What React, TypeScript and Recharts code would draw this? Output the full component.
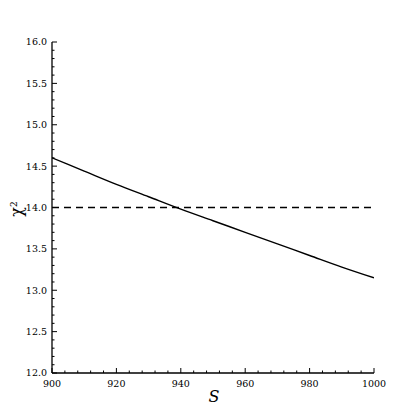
import React from "react";
import { LineChart, Line, XAxis, YAxis } from "recharts";

const sValues = [900, 910, 920, 930, 940, 950, 960, 970, 980, 990, 1000];
const chiValues = [14.6, 14.44, 14.28, 14.13, 13.98, 13.84, 13.7, 13.56, 13.42, 13.28, 13.15];
const thresholdValue = 14.0;
const xMajorTicks = [900, 920, 940, 960, 980, 1000];
const yMajorTicks = [12.0, 12.5, 13.0, 13.5, 14.0, 14.5, 15.0, 15.5, 16.0];
const xLabel = "S";
const yLabel = "χ";
const yLabelSup = "2";

const data = sValues.map((s, i) => ({ S: s, chi: chiValues[i], thresh: thresholdValue }));

const xAllTicks: number[] = [];
for (let v = 900; v <= 1000; v += 4) xAllTicks.push(v);
const yAllTicks: number[] = [];
for (let k = 120; k <= 160; k++) yAllTicks.push(k / 10);

const isXMajor = (v: number) => xMajorTicks.includes(v);
const isYMajor = (v: number) => yMajorTicks.some((m) => Math.abs(m - v) < 1e-6);

const FONT = '"DejaVu Serif", "Liberation Serif", "Times New Roman", serif';
const MAJ = 5;
const MIN = 2.5;
const SW = 1;
const txt = { fontFamily: FONT };

const BottomTick = (props: any) => {
  const { x, y, payload } = props;
  const axisY = y;
  const major = isXMajor(payload.value);
  return (
    <g>
      <line x1={x} y1={axisY} x2={x} y2={axisY - (major ? MAJ : MIN)} stroke="#000" strokeWidth={SW} />
      {major && (
        <text x={x} y={axisY + 14} textAnchor="middle" style={txt} fontSize={9.5} fill="#000">
          {payload.value}
        </text>
      )}
    </g>
  );
};

const TopTick = (props: any) => {
  const { x, y, payload } = props;
  const major = isXMajor(payload.value);
  return <line x1={x} y1={y} x2={x} y2={y + (major ? MAJ : MIN)} stroke="#000" strokeWidth={SW} />;
};

const LeftTick = (props: any) => {
  const { x, y, payload } = props;
  const axisX = x;
  const major = isYMajor(payload.value);
  return (
    <g>
      <line x1={axisX} y1={y} x2={axisX + (major ? MAJ : MIN)} y2={y} stroke="#000" strokeWidth={SW} />
      {major && (
        <text x={axisX - 5} y={y} dy="0.36em" textAnchor="end" style={txt} fontSize={9.5} fill="#000">
          {Number(payload.value).toFixed(1)}
        </text>
      )}
    </g>
  );
};

const RightTick = (props: any) => {
  const { x, y, payload } = props;
  const major = isYMajor(payload.value);
  return <line x1={x} y1={y} x2={x - (major ? MAJ : MIN)} y2={y} stroke="#000" strokeWidth={SW} />;
};

export default function App() {
  return (
    <LineChart width={415} height={415} data={data} margin={{ top: 34, right: 49, bottom: 20, left: 0 }}>
      <XAxis
        xAxisId="bottom"
        dataKey="S"
        type="number"
        domain={[900, 1000]}
        allowDataOverflow
        ticks={xAllTicks}
        interval={0}
        tickSize={0}
        tickMargin={0}
        height={30}
        axisLine={{ stroke: "#000", strokeWidth: 1.3 }}
        tickLine={false}
        tick={<BottomTick />}
      />
      <XAxis
        xAxisId="top"
        orientation="top"
        dataKey="S"
        type="number"
        domain={[900, 1000]}
        allowDataOverflow
        ticks={xAllTicks}
        interval={0}
        tickSize={0}
        tickMargin={0}
        height={0}
        axisLine={{ stroke: "#000", strokeWidth: 1.3 }}
        tickLine={false}
        tick={<TopTick />}
      />
      <YAxis
        yAxisId="left"
        type="number"
        domain={[12, 16]}
        allowDataOverflow
        ticks={yAllTicks}
        interval={0}
        tickSize={0}
        tickMargin={0}
        width={44}
        axisLine={{ stroke: "#000", strokeWidth: 1.3 }}
        tickLine={false}
        tick={<LeftTick />}
      />
      <YAxis
        yAxisId="right"
        orientation="right"
        type="number"
        domain={[12, 16]}
        allowDataOverflow
        ticks={yAllTicks}
        interval={0}
        tickSize={0}
        tickMargin={0}
        width={0}
        axisLine={{ stroke: "#000", strokeWidth: 1.3 }}
        tickLine={false}
        tick={<RightTick />}
      />
      <Line
        xAxisId="bottom"
        yAxisId="left"
        type="monotone"
        dataKey="chi"
        stroke="#000"
        strokeWidth={1.4}
        dot={false}
        isAnimationActive={false}
      />
      <Line
        xAxisId="top"
        yAxisId="right"
        type="linear"
        dataKey="thresh"
        stroke="#000"
        strokeWidth={1.4}
        strokeDasharray="7 5"
        dot={false}
        isAnimationActive={false}
      />
      <text x={206} y={394} textAnchor="middle" style={txt} fontStyle="italic" fontSize={16} fill="#000">
        {xLabel}
      </text>
      <text
        x={14}
        y={201}
        transform="rotate(-90, 14, 201)"
        textAnchor="middle"
        style={txt}
        fontSize={16}
        fill="#000"
      >
        {yLabel}
        <tspan dy={-5} fontSize={9}>
          {yLabelSup}
        </tspan>
      </text>
    </LineChart>
  );
}
